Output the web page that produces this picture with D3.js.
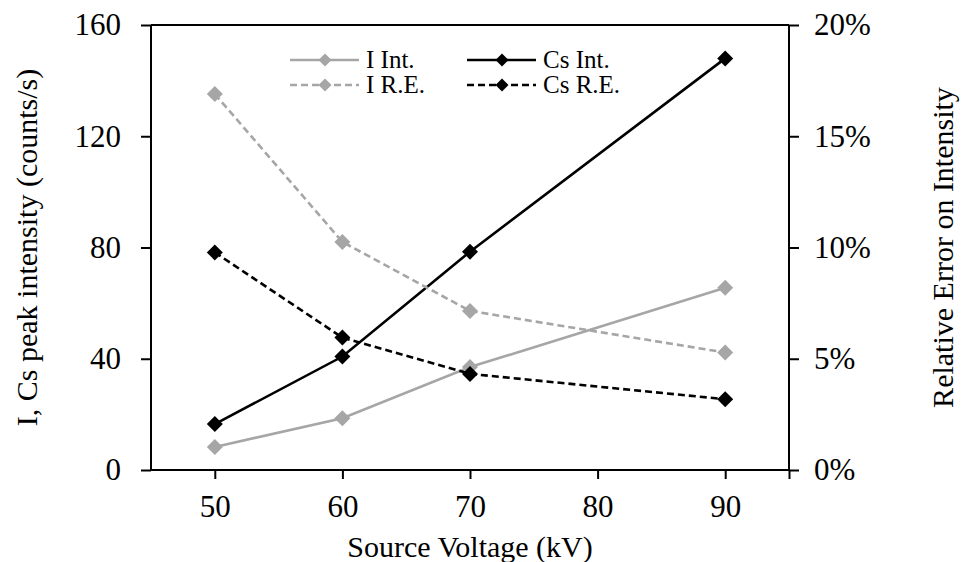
<!DOCTYPE html>
<html><head><meta charset="utf-8">
<script src="https://cdn.jsdelivr.net/npm/d3@7"></script>
<style>
html,body{margin:0;padding:0;background:#fff;}
svg text{font-family:"Liberation Serif","Times New Roman",Times,serif !important;fill:#000;}
</style></head>
<body><svg id="chart" width="962" height="562"></svg>
<script>
const voltages = [50, 60, 70, 90];
const iIntensity = [8.3, 18.6, 37, 65.5];
const csIntensity = [16.5, 40.8, 78.5, 148];
const iRelErr = [0.169, 0.1025, 0.0715, 0.0528];
const csRelErr = [0.0978, 0.0595, 0.0432, 0.0318];
const xTicks = [50, 60, 70, 80, 90];
const yLeftTicks = [0, 40, 80, 120, 160];
const yRightTicks = [0, 0.05, 0.10, 0.15, 0.20];

const svg = d3.select("#chart");
const L = 151, R = 789, T = 25, B = 470;
const x = d3.scaleLinear().domain([45, 95]).range([L, R]);
const yL = d3.scaleLinear().domain([0, 160]).range([B, T]);
const yR = d3.scaleLinear().domain([0, 0.20]).range([B, T]);

const gray = "#a6a6a6";
const series = [
  {name:"I Int.", vals:iIntensity, y:yL, color:gray, dash:null},
  {name:"Cs Int.", vals:csIntensity, y:yL, color:"#000", dash:null},
  {name:"I R.E.", vals:iRelErr, y:yR, color:gray, dash:"7,4"},
  {name:"Cs R.E.", vals:csRelErr, y:yR, color:"#000", dash:"7,4"}
];

// top border
svg.append("line").attr("x1", L).attr("x2", R).attr("y1", T).attr("y2", T)
  .attr("stroke", "#000").attr("stroke-width", 2);

const fs = 31;
const axL = svg.append("g").attr("transform", `translate(${L},0)`)
  .call(d3.axisLeft(yL).tickValues(yLeftTicks).tickSize(10).tickPadding(20).tickFormat(d3.format("d")));
const axR = svg.append("g").attr("transform", `translate(${R},0)`)
  .call(d3.axisRight(yR).tickValues(yRightTicks).tickSize(10).tickPadding(15).tickFormat(d3.format(".0%")));
const axB = svg.append("g").attr("transform", `translate(0,${B})`)
  .call(d3.axisBottom(x).tickValues(xTicks.concat([95])).tickSize(9).tickPadding(16)
    .tickFormat(d => d === 95 ? "" : d));
[axL, axR, axB].forEach(g => {
  g.attr("font-family", null);
  g.select(".domain").attr("stroke", "#000").attr("stroke-width", 2);
  g.selectAll(".tick line").attr("stroke", "#000").attr("stroke-width", 2);
  g.selectAll(".tick text").style("font-size", fs + "px").attr("fill", "#000");
});
axL.select(".domain").attr("d", `M0,${T}V${B}`);
axR.select(".domain").attr("d", `M0,${T}V${B}`);
axB.select(".domain").attr("d", `M${L},0H${R}`);

// axis titles
svg.append("text").attr("x", (x(50)+x(90))/2).attr("y", 557).attr("text-anchor", "middle")
  .style("font-size", "30px").text("Source Voltage (kV)");
svg.append("text").attr("transform", `translate(37,${(T+B)/2}) rotate(-90)`).attr("text-anchor", "middle")
  .style("font-size", "30px").text("I, Cs peak intensity (counts/s)");
svg.append("text").attr("transform", `translate(953,${(T+B)/2}) rotate(-90)`).attr("text-anchor", "middle")
  .style("font-size", "30px").text("Relative Error on Intensity");

function drawDiamond(g, cx, cy, color, size) {
  const s = size / 2;
  g.append("path").attr("d", `M${cx},${cy-s}L${cx+s},${cy}L${cx},${cy+s}L${cx-s},${cy}Z`).attr("fill", color);
}

series.forEach(s => {
  const line = d3.line().x((d, i) => x(voltages[i])).y(d => s.y(d));
  svg.append("path").datum(s.vals).attr("d", line).attr("fill", "none")
    .attr("stroke", s.color).attr("stroke-width", 2.6).attr("stroke-dasharray", s.dash);
});
series.forEach(s => {
  const g = svg.append("g");
  s.vals.forEach((v, i) => drawDiamond(g, x(voltages[i]), s.y(v), s.color, 16));
});

// legend
const legendItems = [
  {s: series[0], lx: 290, ly: 60},
  {s: series[1], lx: 467, ly: 60},
  {s: series[2], lx: 290, ly: 85},
  {s: series[3], lx: 467, ly: 85}
];
legendItems.forEach(it => {
  const g = svg.append("g");
  g.append("line").attr("x1", it.lx).attr("x2", it.lx + 69).attr("y1", it.ly).attr("y2", it.ly)
    .attr("stroke", it.s.color).attr("stroke-width", 2.5).attr("stroke-dasharray", it.s.dash);
  drawDiamond(g, it.lx + 35, it.ly, it.s.color, 13);
  g.append("text").attr("x", it.lx + 76).attr("y", it.ly + 8).style("font-size", "25px").text(it.s.name);
});
</script></body></html>
